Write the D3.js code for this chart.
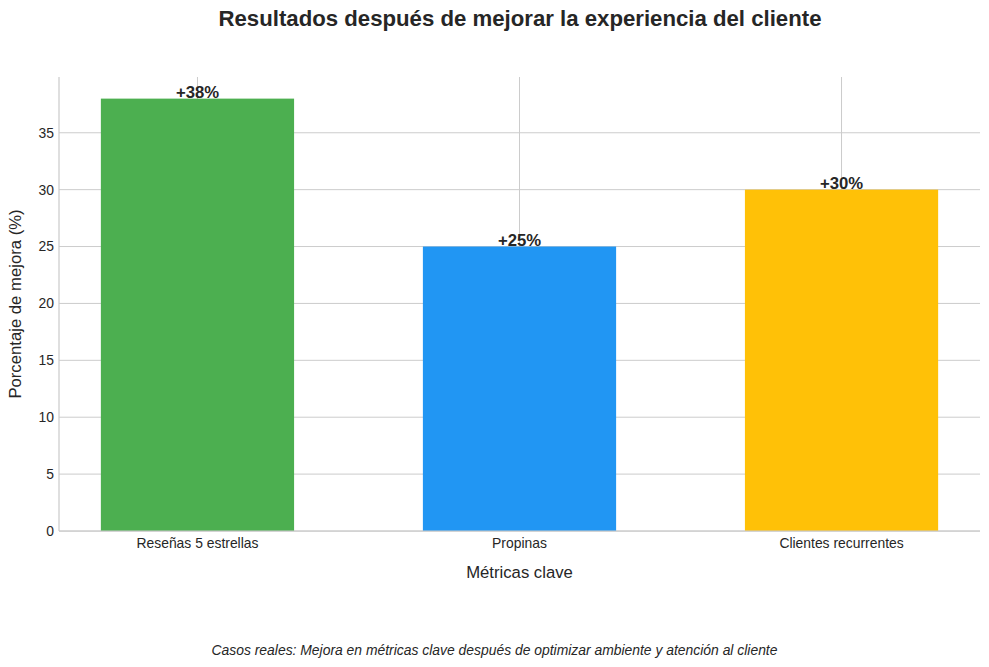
<!DOCTYPE html>
<html><head><meta charset="utf-8">
<script src="https://cdn.jsdelivr.net/npm/d3@7"></script>
<style>body{margin:0;background:#fff;} text{font-family:"Liberation Sans",Arial,sans-serif;fill:#262626;}</style>
</head><body><svg id="c" width="989" height="667"></svg>
<script>
const categories = ["Reseñas 5 estrellas", "Propinas", "Clientes recurrentes"];
const values = [38, 25, 30];
const colors = ["#4CAF50", "#2196F3", "#FFC107"];
const yTicks = [0, 5, 10, 15, 20, 25, 30, 35];
const valueLabels = ["+38%", "+25%", "+30%"];

const svg = d3.select("#c");
const L = 59, R = 980, T = 77, B = 531;
const x = d3.scaleLinear().domain([-0.43, 2.43]).range([L, R]);
const y = d3.scaleLinear().domain([0, 39.9]).range([B, T]);
const bw = 0.6;

// grid
svg.append("g").selectAll("line").data(yTicks).join("line")
  .attr("x1", L).attr("x2", R).attr("y1", d => y(d)).attr("y2", d => y(d))
  .attr("stroke", "#cccccc").attr("stroke-width", 1);
svg.append("g").selectAll("line").data(categories).join("line")
  .attr("x1", (d, i) => x(i)).attr("x2", (d, i) => x(i)).attr("y1", T).attr("y2", B)
  .attr("stroke", "#cccccc").attr("stroke-width", 1);

// bars
svg.append("g").selectAll("rect").data(values).join("rect")
  .attr("x", (d, i) => x(i - bw / 2)).attr("width", x(bw) - x(0))
  .attr("y", d => y(d)).attr("height", d => y(0) - y(d))
  .attr("fill", (d, i) => colors[i]);

// spines
svg.append("line").attr("x1", L).attr("x2", L).attr("y1", T).attr("y2", B).attr("stroke", "#cccccc").attr("stroke-width", 1.25);
svg.append("line").attr("x1", L).attr("x2", R).attr("y1", B).attr("y2", B).attr("stroke", "#cccccc").attr("stroke-width", 1.25);

// y tick labels
svg.append("g").selectAll("text").data(yTicks).join("text")
  .attr("x", L - 5).attr("y", d => y(d)).attr("dy", "0.35em")
  .attr("text-anchor", "end").attr("font-size", 13.9).text(d => d);

// x tick labels
svg.append("g").selectAll("text").data(categories).join("text")
  .attr("x", (d, i) => x(i)).attr("y", B + 17)
  .attr("text-anchor", "middle").attr("font-size", 13.9).text(d => d);

// value labels
svg.append("g").selectAll("text").data(values).join("text")
  .attr("x", (d, i) => x(i)).attr("y", d => y(d) - 1)
  .attr("text-anchor", "middle").attr("font-size", 16.7).attr("font-weight", "bold")
  .text((d, i) => valueLabels[i]);

// axis labels
svg.append("text").attr("x", (L + R) / 2).attr("y", 578).attr("text-anchor", "middle")
  .attr("font-size", 16.7).text("Métricas clave");
svg.append("text").attr("transform", `translate(21,${(T + B) / 2}) rotate(-90)`)
  .attr("text-anchor", "middle").attr("font-size", 16.7).text("Porcentaje de mejora (%)");

// title
svg.append("text").attr("x", 520).attr("y", 26).attr("text-anchor", "middle")
  .attr("font-size", 22.2).attr("font-weight", "bold").text("Resultados después de mejorar la experiencia del cliente");

// caption
svg.append("text").attr("x", 494.5).attr("y", 655).attr("text-anchor", "middle")
  .attr("font-size", 13.9).attr("font-style", "italic")
  .text("Casos reales: Mejora en métricas clave después de optimizar ambiente y atención al cliente");
</script></body></html>
